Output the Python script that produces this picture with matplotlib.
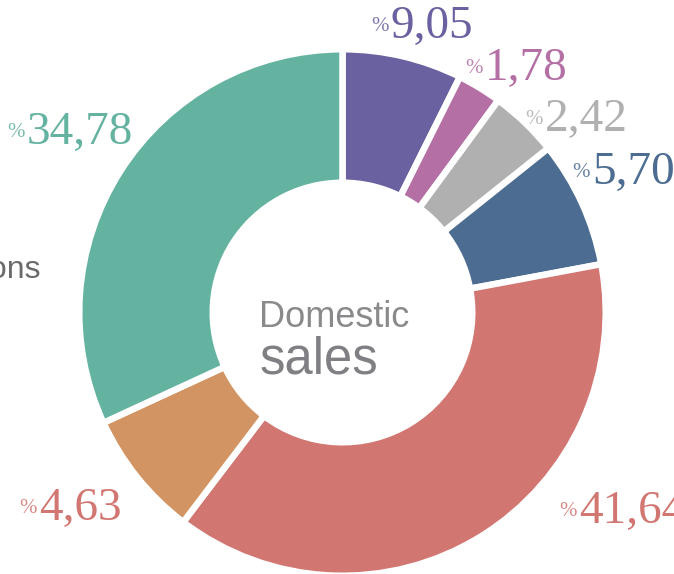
import matplotlib
matplotlib.use("Agg")
import matplotlib.pyplot as plt

# slice shares as drawn (clockwise from 12 o'clock)
segments = ["purple", "pink", "grey", "blue", "red", "orange", "teal"]
shares = [7.36, 2.72, 4.20, 7.78, 38.28, 7.78, 31.88]
# printed percentages beside each slice
printed = [9.05, 1.78, 2.42, 5.70, 41.64, 4.63, 34.78]

slice_colors = ["#6a62a0", "#b470a4", "#afb0af", "#4c6d91",
                "#d27672", "#d29462", "#64b2a0"]
label_colors = ["#6a62a0", "#b470a4", "#b0b0b0", "#4c6d91",
                "#d27672", "#d27672", "#64b2a0"]

center_title = ["Domestic", "sales"]
side_label = "Operations"

W, H = 674, 574
DPI = 100

# label anchors in pixels (left edge of digits, baseline)
label_pos = [(391, 38), (485, 80), (545, 131), (592, 184),
             (579, 523), (39, 520), (27, 144)]


def py(y):
    return H - y


fig = plt.figure(figsize=(W / DPI, H / DPI), dpi=DPI)
ax = fig.add_axes([0, 0, 1, 1])

gap = 6.5  # px of white between slices
lw = gap * 72 / DPI
R, r = 260, 133
ax.pie(shares, colors=slice_colors, startangle=90, counterclock=False,
       radius=R + gap / 2, center=(342.5, py(312.5)),
       wedgeprops=dict(width=(R + gap / 2) - (r - gap / 2),
                       edgecolor="white", linewidth=lw))

for val, col, (x, y) in zip(printed, label_colors, label_pos):
    txt = f"{val:.2f}".replace(".", ",")
    ax.text(x, py(y), txt, color=col, fontsize=34,
            family="Liberation Serif", ha="left", va="baseline")
    ax.text(x - 2, py(y - 7), "%", color=col, fontsize=15, alpha=0.85,
            family="Liberation Serif", ha="right", va="baseline")

ax.text(259, py(327), center_title[0], color="#8a8a8d", fontsize=26,
        family="Liberation Sans", ha="left", va="baseline")
ax.text(260, py(374), center_title[1], color="#808084", fontsize=36.5,
        family="Liberation Sans", ha="left", va="baseline")

ax.text(41, py(278), side_label, color="#6b6b6b", fontsize=23,
        family="Liberation Sans", ha="right", va="baseline")

ax.set_xlim(0, W)
ax.set_ylim(0, H)
ax.set_aspect("equal")
ax.axis("off")

fig.savefig("out.png", dpi=DPI)
